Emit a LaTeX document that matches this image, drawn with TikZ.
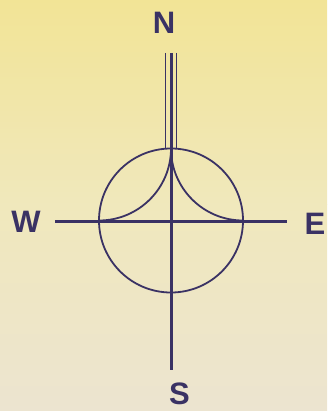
\documentclass[tikz,border=0pt]{standalone}
\usepackage{fontspec}
\setmainfont{Liberation Sans}
\definecolor{ink}{RGB}{58,50,100}
\definecolor{bgtop}{RGB}{242,228,150}
\definecolor{bgmid}{RGB}{240,232,188}
\definecolor{bgbot}{RGB}{236,228,208}
\begin{document}
\begin{tikzpicture}[x=1pt,y=-1pt,
  lbl/.style={text=ink,font=\fontsize{31}{31}\selectfont\bfseries,inner sep=0pt,anchor=center},
  axis/.style={draw=ink,line width=3pt},
  thin/.style={draw=ink,line width=1.8pt}]
\useasboundingbox (0,0) rectangle (327,411);
\shade[top color=bgtop,bottom color=bgmid] (0,0) rectangle (327,205);
\shade[top color=bgmid,bottom color=bgbot] (0,205) rectangle (327,411);
% key points
\coordinate (c) at (171,220.5);
\coordinate (top) at (171,148.5);
\coordinate (lft) at (99,220.5);
\coordinate (rgt) at (243,220.5);
\coordinate (ntop) at (171,53);
\coordinate (wend) at (55,221.5);
\coordinate (eend) at (287,221.5);
\coordinate (send) at (171,370);
% labels
\node[lbl] (N) at (164,23) {N};
\node[lbl] (W) at (26,222) {W};
\node[lbl] (E) at (315,224) {E};
\node[lbl] (S) at (179.5,394) {S};
% circle
\draw[thin] (c) circle[radius=72];
% concave arcs
\draw[thin] (top) arc[start angle=0,end angle=90,radius=72];
\draw[thin] (top) arc[start angle=180,end angle=90,radius=72];
% axes
\draw[axis] (wend) -- (eend);
\draw[axis] (ntop) -- (send);
% triple lines at north
\draw[thin] ([xshift=-5.5pt]ntop) -- ([xshift=-5.5pt]top);
\draw[thin] ([xshift=5.5pt]ntop) -- ([xshift=5.5pt]top);
\end{tikzpicture}
\end{document}
